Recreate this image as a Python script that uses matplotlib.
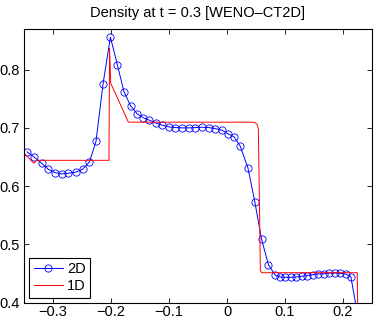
import matplotlib
matplotlib.use("Agg")
import matplotlib.pyplot as plt

plt.rcParams['font.family'] = ['Liberation Sans', 'DejaVu Sans']

x2d = [-0.3448, -0.3323, -0.3196, -0.3082, -0.2967, -0.2852, -0.2739, -0.2607, -0.2491, -0.2371,
       -0.2258, -0.2137, -0.2010, -0.1890, -0.1777, -0.1662, -0.1546, -0.1440, -0.1340, -0.1232,
       -0.1117, -0.1003, -0.0888, -0.0773, -0.0660, -0.0545, -0.0430, -0.0316, -0.0201, -0.0086,
       0.0010, 0.0125, 0.0229, 0.0361, 0.0481, 0.0595, 0.0715, 0.0835, 0.0916, 0.1002,
       0.1100, 0.1190, 0.1289, 0.1385, 0.1478, 0.1574, 0.1672, 0.1763, 0.1861, 0.1952,
       0.2050, 0.2136, 0.2250]
y2d = [0.659, 0.6498, 0.6395, 0.6292, 0.6234, 0.6211, 0.6223, 0.6241, 0.6292, 0.6418,
       0.6773, 0.7758, 0.856, 0.8084, 0.7626, 0.738, 0.7242, 0.7174, 0.7134, 0.7088,
       0.7048, 0.7019, 0.7007, 0.7002, 0.7002, 0.7007, 0.7013, 0.7007, 0.699, 0.6962,
       0.6904, 0.6847, 0.6687, 0.6314, 0.5725, 0.5095, 0.4648, 0.447, 0.4442, 0.4436,
       0.4436, 0.4442, 0.4454, 0.4464, 0.4481, 0.4493, 0.4498, 0.451, 0.451, 0.4505,
       0.4493, 0.4442, 0.38]

x1d = [-0.350, -0.333, -0.329, -0.2035, -0.2025, -0.2005, -0.170, 0.040, 0.048, 0.052,
       0.054, 0.0555, 0.0575, 0.060, 0.2245, 0.2255]
y1d = [0.657, 0.6395, 0.6445, 0.6445, 0.837, 0.777, 0.710, 0.710, 0.7095, 0.706,
       0.698, 0.600, 0.455, 0.4515, 0.4515, 0.38]

xticks = [-0.3, -0.2, -0.1, 0, 0.1, 0.2]
xticklabels = ['\u22120.3', '\u22120.2', '\u22120.1', '0', '0.1', '0.2']
yticks = [0.4, 0.5, 0.6, 0.7, 0.8]
yticklabels = ['0.4', '0.5', '0.6', '0.7', '0.8']

fig = plt.figure(figsize=(3.78, 3.2), dpi=100)
ax = fig.add_axes([24/378, 17.3/320, 348/378, 273.7/320])

ax.plot(x2d, y2d, color='#0000ff', lw=0.7, marker='o', markersize=5.2,
        markerfacecolor='none', markeredgewidth=0.6, label='2D')
ax.plot(x1d, y1d, color='#ff0000', lw=0.7, label='1D')

ax.set_xlim(-0.35, 0.25)
ax.set_ylim(0.4, 0.87)
ax.set_xticks(xticks)
ax.set_xticklabels(xticklabels)
ax.set_yticks(yticks)
ax.set_yticklabels(yticklabels)
ax.tick_params(direction='in', length=3.5, width=0.6, top=True, right=True,
               labelsize=10.5)
ax.tick_params(axis='x', pad=1.5)
ax.tick_params(axis='y', pad=3)
for s in ax.spines.values():
    s.set_linewidth(0.8)

ax.set_title('Density at t = 0.3 [WENO\u2013CT2D]', fontsize=10.5, pad=9)

leg = ax.legend(loc='lower left', bbox_to_anchor=(5.3/348, 5/273.7), borderaxespad=0,
                fontsize=10.5, handlelength=2.0, handletextpad=0.3, labelspacing=0.2,
                borderpad=0.3, fancybox=False, framealpha=1, edgecolor='black')
leg.get_frame().set_linewidth(0.8)

fig.savefig('out.png', dpi=100)
